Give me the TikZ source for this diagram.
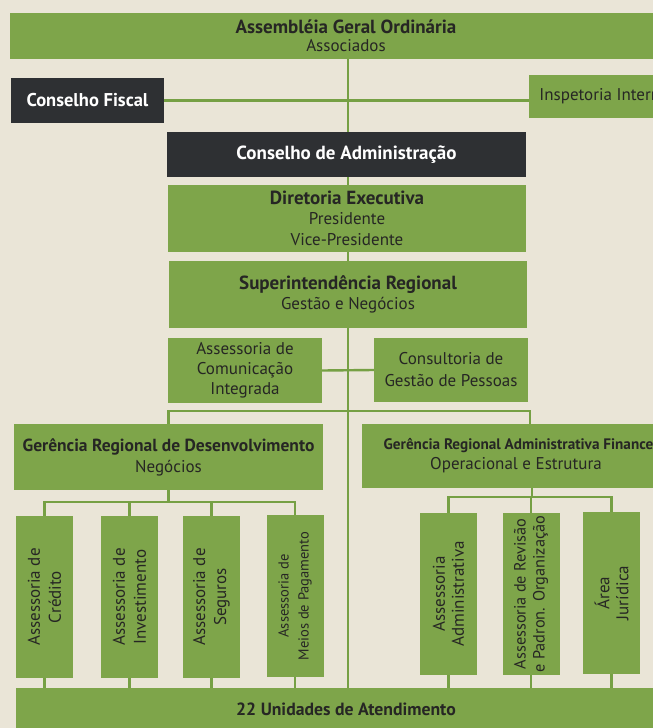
\documentclass[tikz,border=0pt]{standalone}
\usepackage{fontspec}
\setmainfont{PT Sans}
\definecolor{paper}{RGB}{234,229,215}
\definecolor{boxgreen}{RGB}{126,165,74}
\definecolor{linegreen}{RGB}{118,160,68}
\definecolor{darkbox}{RGB}{46,48,51}
\definecolor{ink}{RGB}{38,38,36}
\pgfdeclarelayer{bg}
\pgfdeclarelayer{lines}
\pgfsetlayers{bg,lines,main}
\newcommand{\ttl}[1]{{\fontsize{19}{18}\selectfont\bfseries #1}}
\tikzset{
  gbox/.style={fill=boxgreen, draw=none, inner sep=0pt, align=center, text=ink},
  dbox/.style={fill=darkbox, draw=none, inner sep=0pt, align=center, text=white},
  vbox/.style={gbox, minimum width=57, minimum height=162},
  vtext/.style={rotate=90, align=center, text=ink, inner sep=0pt},
  conn/.style={draw=linegreen, line width=2.4pt},
}
\begin{document}
\begin{tikzpicture}[x=1pt,y=-1pt]
\begin{pgfonlayer}{bg}
\fill[paper] (0,0) rectangle (653,728);
\end{pgfonlayer}
\useasboundingbox (0,0) rectangle (653,728);
\clip (0,0) rectangle (653,728);

% top
\node[gbox, minimum width=672, minimum height=46, font=\fontsize{17}{18}\selectfont] (agm) at (346,36)
  {\ttl{Assembléia Geral Ordinária}\\Associados};
\node[dbox, minimum width=153, minimum height=45, font=\fontsize{18.5}{18}\selectfont\bfseries] (cf) at (87.5,100.5) {Conselho Fiscal};
\node[gbox, minimum width=150, minimum height=43, font=\fontsize{17}{18}\selectfont] (ii) at (604,96.5) {Inspetoria Interna};

\node[dbox, minimum width=359, minimum height=45, font=\fontsize{19}{18}\selectfont\bfseries] (ca) at (346.5,154.5) {Conselho de Administração};
\node[gbox, minimum width=358, minimum height=67, font=\fontsize{17}{20.5}\selectfont] (de) at (347,218)
  {\ttl{Diretoria Executiva}\\Presidente\\Vice-Presidente};
\node[gbox, minimum width=358, minimum height=67, font=\fontsize{17}{20}\selectfont] (sr) at (348,294.5)
  {\ttl{Superintendência Regional}\\Gestão e Negócios};

\node[gbox, minimum width=154, minimum height=65, font=\fontsize{17}{20}\selectfont] (aci) at (245,370.5) {Assessoria de\\Comunicação\\Integrada};
\node[gbox, minimum width=154, minimum height=64, font=\fontsize{17}{22}\selectfont] (cgp) at (451,370) {Consultoria de\\Gestão de Pessoas};

\node[gbox, minimum width=309, minimum height=66, font=\fontsize{17}{21}\selectfont] (grd) at (168.5,457)
  {{\fontsize{17.5}{18}\selectfont\bfseries Gerência Regional de Desenvolvimento}\\Negócios};
\node[gbox, minimum width=278, minimum height=64, font=\fontsize{17}{20}\selectfont] (graf) at (516,456)
  {{\fontsize{15.2}{18}\selectfont\bfseries\hspace*{22pt}Gerência Regional Administrativa Financeira}\\Operacional e Estrutura};

% vertical boxes left
\node[vbox] (a1) at (44.5,597) {};
\node[vtext, font=\fontsize{17}{21}\selectfont] at (a1) {Assessoria de\\Crédito};
\node[vbox] (a2) at (129.5,597) {};
\node[vtext, font=\fontsize{17}{21}\selectfont] at (a2) {Assessoria de\\Investimento};
\node[vbox] (a3) at (211.5,597) {};
\node[vtext, font=\fontsize{17}{21}\selectfont] at (a3) {Assessoria de\\Seguros};
\node[vbox] (a4) at (295,596) {};
\node[vtext, font=\fontsize{14.5}{20}\selectfont] at (a4) {Assessoria de\\Meios de Pagamento};

% vertical boxes right
\node[vbox] (b1) at (448.5,594) {};
\node[vtext, font=\fontsize{17}{19}\selectfont] at (b1) {Assessoria\\Administrativa};
\node[vbox] (b2) at (531,594) {};
\node[vtext, font=\fontsize{16.3}{19}\selectfont] at (b2) {Assessoria de Revisão\\e Padron. Organização};
\node[vbox] (b3) at (611.5,593) {};
\node[vtext, font=\fontsize{17}{19}\selectfont] at (b3) {Área\\Jurídica};

\node[gbox, minimum width=660, minimum height=42, font=\fontsize{17.7}{18}\selectfont\bfseries] (u22) at (346,709) {22 Unidades de Atendimento};

% connectors
\coordinate (m) at (348,0);
\coordinate (j2) at (530,411);
\coordinate (lb) at (168,502);
\coordinate (rb) at (532,497);
\begin{pgfonlayer}{lines}
\draw[conn] (agm.south -| m) -- (u22.north -| m);
\draw[conn] (cf.east) -- (cf.east -| ii.west);
\draw[conn] (aci.east) -- (cgp.west);
\draw[conn] (grd.north) |- (j2) -- (j2 |- graf.north);
\draw[conn] (grd.south) -- (grd.south |- lb);
\draw[conn] (a1.north) |- (a4.north |- lb) -- (a4.north);
\draw[conn] (a2.north) -- (a2.north |- lb);
\draw[conn] (a3.north) -- (a3.north |- lb);
\draw[conn] (rb |- graf.south) -- (rb);
\draw[conn] (b1.north) |- (b3.north |- rb) -- (b3.north);
\draw[conn] (b2.north) -- (b2.north |- rb);
\foreach \n in {a1,a2,a3,a4,b1,b2,b3}{
  \draw[conn] (\n.south) -- (\n.south |- u22.north);
}
\end{pgfonlayer}
\end{tikzpicture}
\end{document}
